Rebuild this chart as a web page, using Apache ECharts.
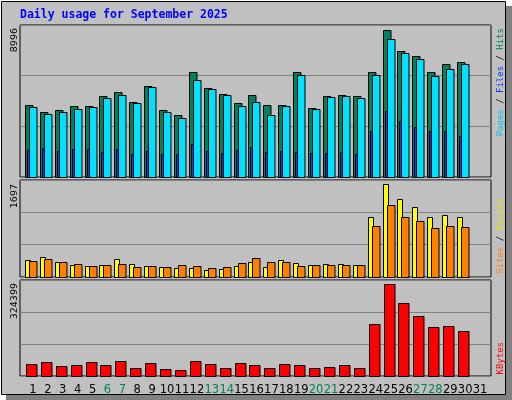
<!DOCTYPE html>
<html><head><meta charset="utf-8">
<script src="https://cdn.jsdelivr.net/npm/echarts@6/dist/echarts.min.js"></script>
<style>html,body{margin:0;padding:0;background:#fff}#c{width:512px;height:400px}</style>
</head><body><div id="c"></div>
<script>
const days = Array.from({length:31},(_,i)=>String(i+1));
const weekendDays = ['6','7','13','14','20','21','27','28'];
const hits   = [4275,3860,3949,4216,4216,4810,5047,4454,5404,3978,3682,6235,5285,4929,4394,4869,4275,4275,6205,4097,4810,4869,4810,6205,8729,7482,7185,6205,6710,6829];
const files  = [4157,3741,3860,4038,4157,4691,4869,4394,5344,3860,3503,5760,5225,4869,4216,4454,3682,4216,6057,4038,4750,4810,4691,6057,8194,7363,7007,5997,6413,6710];
const pages  = [1574,1692,1514,1633,1633,1455,1633,1336,1514,1336,1336,1930,1514,1395,1574,1752,1455,1514,1455,1395,1395,1455,1336,2702,3889,3296,2939,2702,2702,2405];
const sites  = [304,346,269,216,198,216,321,233,198,181,163,163,128,146,198,269,181,304,251,216,233,233,216,1058,1620,1357,1216,1058,1076,1041];
const visits = [286,321,269,233,198,216,233,181,198,181,216,198,163,181,251,339,269,269,198,216,216,216,216,900,1251,1041,971,865,900,883];
const kbytes = [41700,48480,34920,38310,48480,38310,51870,28140,45090,24750,21360,51870,41700,28140,45090,38310,28140,41700,38310,28140,31530,38310,28140,177300,309500,245100,204400,167100,170500,153600];
const axisMax = [8996,1697,324399];
const title = 'Daily usage for September 2025';

function pts(arr){return arr.map((v,i)=>[i+1,v]);}
function barSeries(arr, xi, x0, x1, color, z){
  return {type:'custom', xAxisIndex:xi, yAxisIndex:xi, z:z, data:pts(arr),
    renderItem:(p,api)=>{
      const top=api.coord([api.value(0),api.value(1)]);
      const base=api.coord([api.value(0),0]);
      return {type:'rect', shape:{x:Math.round(top[0]+x0)+0.5,y:Math.round(top[1])+0.5,width:x1-x0,height:Math.round(base[1]-top[1])},
        style:{fill:color,stroke:'#000',lineWidth:1}};
    }};
}
const grids=[{left:20,right:21,top:25,height:152},{left:20,right:21,top:180,height:97},{left:20,right:21,top:280,height:96},{left:25.5,width:462,top:380,height:1}];
const xAxes=[0,1,2].map(i=>({type:'value',gridIndex:i,min:0.128,max:31.74,show:false}));
xAxes.push({type:'category',gridIndex:3,data:days,axisLine:{show:false},axisTick:{show:false},
  axisLabel:{interval:0,margin:3,fontFamily:'DejaVu Sans',fontSize:11.5,
    formatter:v=>weekendDays.includes(v)?'{w|'+v+'}':v,color:'#000',rich:{w:{color:'#00805c',fontFamily:'DejaVu Sans',fontSize:11.5}}}});
const yAxes=[0,1,2].map(i=>({type:'value',gridIndex:i,min:0,max:axisMax[i],interval:axisMax[i]/3,
  axisLabel:{show:false},axisLine:{show:false},axisTick:{show:false},splitLine:{lineStyle:{color:'#808080',width:1}}}));
yAxes.push({type:'value',gridIndex:3,show:false});
const chart=echarts.init(document.getElementById('c'),null,{renderer:'canvas'});
const lblFont={fontFamily:'DejaVu Sans',fontSize:9.5,fill:'#000'};
chart.setOption({
  animation:false,
  backgroundColor:'#fff',
  grid:grids.map((g,i)=>Object.assign({show:i<3,backgroundColor:'#c0c0c0',borderColor:'#000',borderWidth:1},g)),
  xAxis:xAxes, yAxis:yAxes,
  graphic:[
    {type:'rect',z:-10,silent:true,shape:{x:6,y:6,width:506,height:394},style:{fill:'#808080'}},
    {type:'rect',z:-9,silent:true,shape:{x:1.5,y:1.5,width:504,height:393},style:{fill:'#c0c0c0',stroke:'#000',lineWidth:1}},
    {type:'text',x:20,y:9,style:{text:title,fontFamily:'DejaVu Sans Mono',fontWeight:'bold',fontSize:11.5,fill:'#0000ff'}},
    {type:'text',x:15,y:28,rotation:Math.PI/2,style:Object.assign({text:String(axisMax[0]),align:'right',verticalAlign:'middle'},lblFont)},
    {type:'text',x:15,y:184,rotation:Math.PI/2,style:Object.assign({text:String(axisMax[1]),align:'right',verticalAlign:'middle'},lblFont)},
    {type:'text',x:15,y:283,rotation:Math.PI/2,style:Object.assign({text:String(axisMax[2]),align:'right',verticalAlign:'middle'},lblFont)},
    {type:'text',x:500.5,y:28,rotation:Math.PI/2,style:{text:'{p|Pages}{s| / }{f|Files}{s| / }{h|Hits}',align:'right',verticalAlign:'middle',
      rich:{p:{fill:'#00c8f0',fontFamily:'DejaVu Sans Mono',fontSize:9},f:{fill:'#0040ff',fontFamily:'DejaVu Sans Mono',fontSize:9},h:{fill:'#00805c',fontFamily:'DejaVu Sans Mono',fontSize:9},s:{fill:'#000',fontFamily:'DejaVu Sans Mono',fontSize:9}}}},
    {type:'text',x:500.5,y:198,rotation:Math.PI/2,style:{text:'{a|Sites}{s| / }{b|Visits}',align:'right',verticalAlign:'middle',
      rich:{a:{fill:'#ff8000',fontFamily:'DejaVu Sans Mono',fontSize:9},b:{fill:'#e8e800',fontFamily:'DejaVu Sans Mono',fontSize:9},s:{fill:'#000',fontFamily:'DejaVu Sans Mono',fontSize:9}}}},
    {type:'text',x:500.5,y:342,rotation:Math.PI/2,style:{text:'KBytes',align:'right',verticalAlign:'middle',fill:'#ff0000',fontFamily:'DejaVu Sans Mono',fontSize:9}}
  ],
  series:[
    barSeries(hits,0,-8,-0.5,'#00805c',2),
    barSeries(files,0,-4,3.5,'#00e0ff',3),
    {type:'custom',xAxisIndex:0,yAxisIndex:0,z:4,data:pts(pages),renderItem:(p,api)=>{
      const top=api.coord([api.value(0),api.value(1)]);const base=api.coord([api.value(0),0]);
      return {type:'rect',shape:{x:Math.round(top[0]-6)+0.5,y:Math.round(top[1])+0.5,width:2,height:Math.round(base[1]-top[1])},style:{fill:'#0040ff',stroke:'#000',lineWidth:1}};}},
    barSeries(sites,1,-8,-3,'#ffff00',2),
    barSeries(visits,1,-4,3.5,'#ff8000',3),
    barSeries(kbytes,2,-7,3.5,'#ff0000',2)
  ]
});
</script></body></html>
